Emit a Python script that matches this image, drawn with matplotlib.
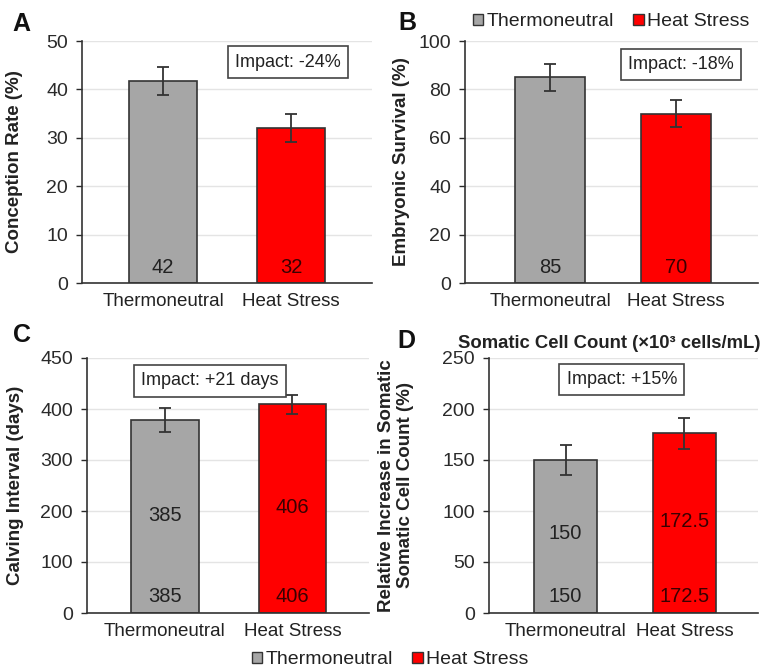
import matplotlib
matplotlib.use("Agg")
import matplotlib.pyplot as plt
from matplotlib.patches import Patch

plt.rcParams['font.family'] = ['Liberation Sans', 'DejaVu Sans']

# data
categories = ['Thermoneutral', 'Heat Stress']

conception = [41.7, 32.0]
conception_err = [2.9, 2.9]
conception_lbl = ['42', '32']

survival = [85, 70]
survival_err = [5.6, 5.5]
survival_lbl = ['85', '70']

calving = [378, 409]
calving_err = [24, 18]
calving_lbl = ['385', '406']

scc = [150, 176]
scc_err = [14.5, 15]
scc_lbl = ['150', '172.5']

impacts = ['Impact: -24%', 'Impact: -18%', 'Impact: +21 days', 'Impact: +15%']

GRAY = '#a6a6a6'
RED = '#ff0000'
EDGE = '#333333'

fig = plt.figure(figsize=(7.66, 6.70), dpi=100)
W, H = 766, 670


def px_axes(left, top, right, bottom):
    return fig.add_axes([left / W, 1 - bottom / H, (right - left) / W, (bottom - top) / H])


def panel(ax, vals, errs, lbls, ymax, yticks, yticklabels, ylabel, xlim, label_coord,
          impact, impact_xy, lbl_bottom, lbl_mid=None, width=0.53):
    x = range(len(categories))
    ax.bar(x, vals, width=width, color=[GRAY, RED], edgecolor=EDGE, linewidth=1.2, zorder=2)
    ax.errorbar(x, vals, yerr=errs, fmt='none', ecolor=EDGE, elinewidth=1.3,
                capsize=4, capthick=1.3, zorder=3)
    txt_colors = ['#222222', '#3a0000']
    for i, l in enumerate(lbls):
        ax.text(i, lbl_bottom, l, ha='center', va='center', fontsize=14.5, color=txt_colors[i], zorder=4)
        if lbl_mid is not None:
            ax.text(i, lbl_mid[i], l, ha='center', va='center', fontsize=14.5, color=txt_colors[i], zorder=4)
    ax.set_ylim(0, ymax)
    ax.set_xlim(*xlim)
    ax.set_yticks(yticks)
    ax.set_yticklabels(yticklabels)
    ax.set_xticks(list(x))
    ax.set_xticklabels(categories)
    ax.tick_params(axis='y', labelsize=14, length=4, width=1, pad=6, colors='#2a2a2a')
    ax.tick_params(axis='x', labelsize=13.5, length=0, pad=7, colors='#222222')
    for s in ['top', 'right']:
        ax.spines[s].set_visible(False)
    for s in ['left', 'bottom']:
        ax.spines[s].set_color(EDGE)
        ax.spines[s].set_linewidth(1.2)
    ax.yaxis.grid(True, color='#e4e4e4', linewidth=1)
    ax.set_axisbelow(True)
    ax.set_ylabel(ylabel, fontsize=13.5, fontweight='bold', color='#222222')
    ax.yaxis.set_label_coords(label_coord, 0.5)
    ax.text(impact_xy[0], impact_xy[1], impact, transform=ax.transAxes, ha='center', va='center',
            fontsize=13, color='#222222', zorder=5,
            bbox=dict(boxstyle='square,pad=0.4', facecolor='white', edgecolor='#444444', linewidth=1.2))


axA = px_axes(82, 41, 372, 283)
panel(axA, conception, conception_err, conception_lbl, 50, [0, 10, 20, 30, 40, 50],
      ['0', '10', '20', '30', '40', '50'], 'Conception Rate (%)', (-0.633, 1.633), -0.203,
      impacts[0], (0.71, 0.913), 3.1)

axB = px_axes(465, 41, 758, 283)
panel(axB, survival, survival_err, survival_lbl, 100, [0, 20, 40, 60, 80, 100],
      ['0', '20', '40', '60', '80', '100'], 'Embryonic Survival (%)', (-0.675, 1.65), -0.188,
      impacts[1], (0.737, 0.903), 6.2, width=0.55)

# the reference labels its top gridline "450" though it sits one full step above 400
axC = px_axes(87, 358, 369, 613)
panel(axC, calving, calving_err, calving_lbl, 500, [0, 100, 200, 300, 400, 500],
      ['0', '100', '200', '300', '400', '450'], 'Calving Interval (days)', (-0.61, 1.60), -0.223,
      impacts[2], (0.435, 0.91), 32, lbl_mid=[192, 206])

axD = px_axes(489, 358, 758, 613)
panel(axD, scc, scc_err, scc_lbl, 250, [0, 50, 100, 150, 200, 250],
      ['0', '50', '100', '150', '200', '250'], 'Relative Increase in Somatic\nSomatic Cell Count (%)',
      (-0.645, 1.62), -0.277, impacts[3], (0.494, 0.916), 16, lbl_mid=[78, 89.5])

fig.text(609 / W, 1 - 343 / H, 'Somatic Cell Count (×10³ cells/mL)', ha='center', va='center',
         fontsize=13.3, fontweight='bold', color='#222222')

for letter, (lx, ly) in zip('ABCD', [(21, 24), (407, 23), (22, 335), (406, 341)]):
    fig.text(lx / W, 1 - ly / H, letter, ha='center', va='center', fontsize=18,
             fontweight='bold', color='#111111')

handles = [Patch(facecolor=GRAY, edgecolor=EDGE, linewidth=1),
           Patch(facecolor=RED, edgecolor=EDGE, linewidth=1)]
for cx, cy in [(611 / W, 1 - 22 / H), (390 / W, 1 - 660 / H)]:
    fig.legend(handles, categories, loc='center', bbox_to_anchor=(cx, cy), ncol=2, frameon=False,
               fontsize=14, handlelength=0.55, handleheight=0.55, handletextpad=0.15,
               columnspacing=1.0, borderpad=0, labelcolor='#222222')

fig.savefig('out.png', dpi=100, facecolor='white')
